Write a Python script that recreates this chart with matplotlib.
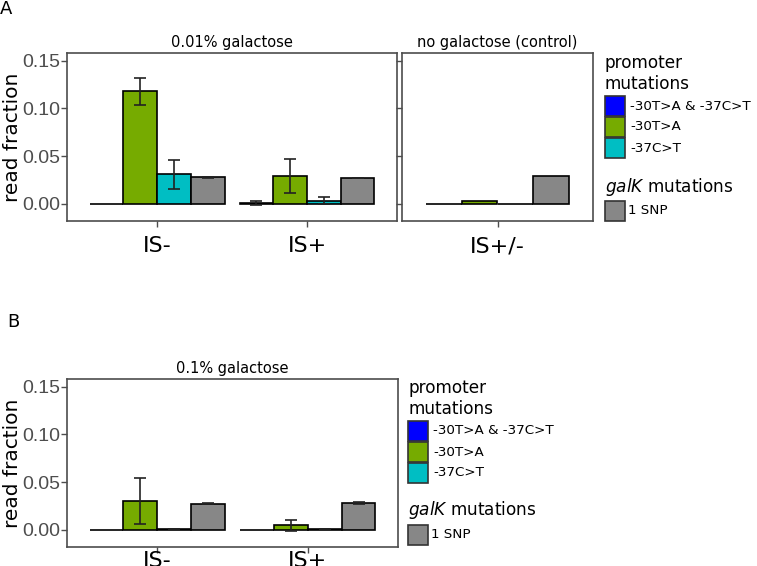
import numpy as np
import matplotlib
matplotlib.use('Agg')
import matplotlib.pyplot as plt
from matplotlib.patches import Rectangle

# data
mutations = ['-30T>A & -37C>T', '-30T>A', '-37C>T', '1 SNP']
colors = ['#0000FF', '#76AB00', '#00BEC3', '#878787']

a_groups = ['IS-', 'IS+']
a_vals = [[0.0, 0.118, 0.031, 0.028],
          [0.001, 0.0295, 0.0035, 0.027]]
a_errs = [[0.0, 0.0142, 0.0155, 0.0007],
          [0.002, 0.0175, 0.0035, 0.0003]]

ctrl_groups = ['IS+/-']
ctrl_vals = [[0.0, 0.0035, 0.0, 0.0295]]

b_groups = ['IS-', 'IS+']
b_vals = [[0.0, 0.0303, 0.001, 0.0277],
          [0.0, 0.0047, 0.001, 0.0285]]
b_errs = [[0.0, 0.0245, 0.0002, 0.001],
          [0.0, 0.0055, 0.0002, 0.001]]

W, H = 757, 566
plt.rcParams['mathtext.fontset'] = 'dejavusans'
fig = plt.figure(figsize=(W / 100, H / 100), dpi=100)

def px_axes(x0, x1, y0, y1):
    return fig.add_axes([x0 / W, 1 - y1 / H, (x1 - x0) / W, (y1 - y0) / H])

def draw_panel(ax, groups, vals, errs, title, ylabels=True, xpad=7):
    ngrp = len(groups)
    width = 0.225
    offs = (np.arange(4) - 1.5) * width
    for i in range(ngrp):
        for j in range(4):
            ax.bar(i + 1 + offs[j], vals[i][j], width=width, color=colors[j],
                   edgecolor='black', linewidth=1.2, zorder=2)
            if errs is not None and errs[i][j] > 0:
                ax.errorbar(i + 1 + offs[j], vals[i][j], yerr=errs[i][j],
                            fmt='none', ecolor='#222222', elinewidth=1.2,
                            capsize=4.5, capthick=1.2, zorder=3)
    ax.set_xlim(0.4, ngrp + 0.6)
    ax.set_ylim(-0.0178, 0.158)
    ax.set_yticks([0.0, 0.05, 0.10, 0.15])
    ax.set_xticks(np.arange(1, ngrp + 1))
    ax.set_xticklabels(groups, fontsize=16, family='DejaVu Sans', color='black')
    if ylabels:
        ax.set_yticklabels(['0.00', '0.05', '0.10', '0.15'], fontsize=14,
                           color='#4d4d4d', family='Liberation Sans')
        ax.set_ylabel('read fraction', fontsize=14.5, family='DejaVu Sans')
        ax.yaxis.set_label_coords(-22 / 330 - 45 / 330 + 22 / 330 - 0.0 , 0.5)
    else:
        ax.set_yticklabels([])
    ax.tick_params(axis='both', color='#4d4d4d', length=4, width=1)
    ax.tick_params(axis='y', pad=1)
    ax.tick_params(axis='x', pad=xpad)
    for sp in ax.spines.values():
        sp.set_color('#4d4d4d')
        sp.set_linewidth(1.2)
    ax.set_title(title, fontsize=10.5, family='DejaVu Sans', pad=4)

axA1 = px_axes(67, 397, 53, 221)
draw_panel(axA1, a_groups, a_vals, a_errs, '0.01% galactose')
axA2 = px_axes(402, 593, 53, 221)
draw_panel(axA2, ctrl_groups, ctrl_vals, None, 'no galactose (control)', ylabels=False)
axB = px_axes(67, 398, 379, 547)
draw_panel(axB, b_groups, b_vals, b_errs, '0.1% galactose', xpad=-1)

fig.text(0 / W, 1 - 9 / H, 'A', fontsize=13, va='center', ha='left', family='DejaVu Sans')
fig.text(7 / W, 1 - 322 / H, 'B', fontsize=13, va='center', ha='left', family='DejaVu Sans')

def draw_legend(x, y_title, key_tops, galk_y, snp_top):
    fig.text(x / W, 1 - y_title / H, 'promoter\nmutations', fontsize=12.2,
             va='top', ha='left', family='DejaVu Sans', linespacing=1.2)
    for j in range(3):
        fig.patches.append(Rectangle((x / W, 1 - (key_tops[j] + 20) / H), 20 / W, 20 / H,
                                     transform=fig.transFigure, facecolor=colors[j],
                                     edgecolor='#333333', linewidth=1.2))
        fig.text((x + 25) / W, 1 - (key_tops[j] + 10) / H, mutations[j], fontsize=9.7,
                 va='center', ha='left', family='DejaVu Sans')
    fig.text(x / W, 1 - galk_y / H, '$\\it{galK}$ mutations', fontsize=12.2,
             va='center', ha='left', family='DejaVu Sans')
    fig.patches.append(Rectangle((x / W, 1 - (snp_top + 20) / H), 20 / W, 20 / H,
                                 transform=fig.transFigure, facecolor=colors[3],
                                 edgecolor='#333333', linewidth=1.2))
    fig.text((x + 23) / W, 1 - (snp_top + 10) / H, mutations[3], fontsize=9.7,
             va='center', ha='left', family='DejaVu Sans')

draw_legend(605, 54, [96, 117, 138], 187, 201)
draw_legend(408, 379, [421, 442, 463], 510, 525)

fig.savefig('out.png', dpi=100)
